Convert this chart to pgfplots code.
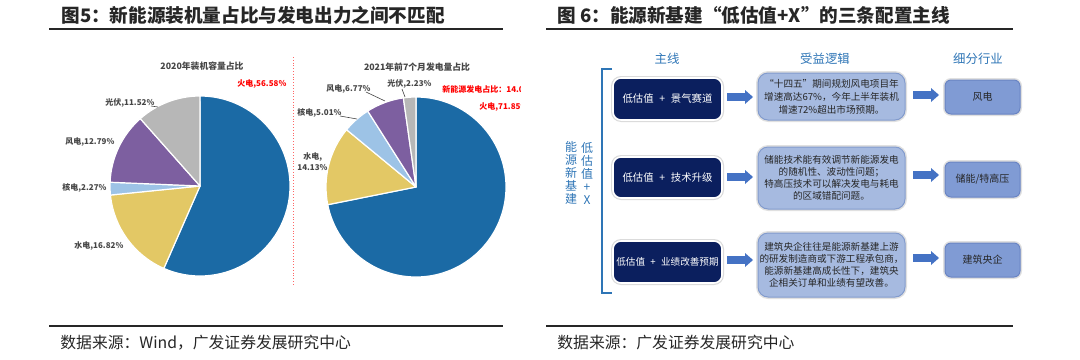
\documentclass[border=0pt]{standalone}
\usepackage{pgfplots}
\pgfplotsset{compat=1.18}
\usepackage{fontspec}
\setmainfont{Noto Sans CJK SC}
\definecolor{cfire}{RGB}{27,106,165}
\definecolor{chydro}{RGB}{227,200,101}
\definecolor{cnuke}{RGB}{157,195,230}
\definecolor{cwind}{RGB}{125,95,160}
\definecolor{cpv}{RGB}{183,183,183}
\definecolor{navy}{RGB}{11,31,94}
\definecolor{midbox}{RGB}{166,186,224}
\definecolor{midedge}{RGB}{130,155,205}
\definecolor{rbox}{RGB}{128,155,212}
\definecolor{redge}{RGB}{105,132,195}
\definecolor{arrowc}{RGB}{68,114,196}
\definecolor{hblue}{RGB}{46,117,182}
\definecolor{titlec}{RGB}{38,38,38}
\definecolor{lblc}{RGB}{70,70,70}
\definecolor{txtc}{RGB}{38,38,38}
\definecolor{redc}{RGB}{255,0,0}
\newcommand{\fs}[1]{\fontsize{#1}{#1}\selectfont}
\newcommand{\pl}{\hspace{0.55em}+\hspace{0.55em}}
\newcommand{\pie}[1]{%
  \pgfplotsextra{%
    \xdef\acc{90}%
    \foreach \v/\c in {#1}{%
      \pgfmathsetmacro\b{\acc-3.6*\v}%
      \fill[\c, draw=white, line width=0.6pt, line join=round] (axis cs:0,0) -- (axis cs:{cos(\acc)},{sin(\acc)}) arc[start angle=\acc, end angle=\b, radius=45pt] -- cycle;
      \xdef\acc{\b}%
    }%
  }%
}
\newcommand{\dbox}[5]{%
  \fill[black!14, rounded corners=5pt] (#1-2,#2-2) rectangle (#3+2,#4+2);
  \fill[navy, draw=white, line width=0.8pt, rounded corners=4pt] (#1,#2) rectangle (#3,#4);
  \node[text=white, font=\fs{5.2}, inner sep=0] at ({(#1+#3)/2},{(#2+#4)/2}) {#5};
}
\newcommand{\mybox}[6]{%
  \fill[black!12, rounded corners=6pt] (#1-2,#2-2) rectangle (#3+2,#4+2);
  \fill[midbox, draw=midedge, line width=0.5pt, rounded corners=5pt] (#1,#2) rectangle (#3,#4);
  \node[text=txtc, font=\fontsize{4.8}{#6}\selectfont, align=center, inner sep=0] at ({(#1+#3)/2},{(#2+#4)/2}) {#5};
}
\newcommand{\rgtbox}[5]{%
  \fill[black!12, rounded corners=4pt] (#1-2,#2-2) rectangle (#3+2,#4+2);
  \fill[rbox, draw=redge, line width=0.5pt, rounded corners=3pt] (#1,#2) rectangle (#3,#4);
  \node[text=txtc, font=\fs{5}, inner sep=0] at ({(#1+#3)/2},{(#2+#4)/2}) {#5};
}
\newcommand{\barrow}[3]{%
  \fill[arrowc] (#1,#3-3.8) -- (#2-8,#3-3.8) -- (#2-8,#3-7) -- (#2,#3) -- (#2-8,#3+7) -- (#2-8,#3+3.8) -- (#1,#3+3.8) -- cycle;
}
\begin{document}
\begin{tikzpicture}[x=0.5pt,y=-0.5pt]
\path[use as bounding box] (0,0) rectangle (1080,359);
% ---------- titles ----------
\node[anchor=west, font=\fs{9.3}\bfseries, text=titlec, inner sep=0] at (61,15) {图5：新能源装机量占比与发电出力之间不匹配};
\draw[line width=1pt, titlec] (49,29) -- (503,29);
\node[anchor=west, font=\fs{9.3}\bfseries, text=titlec, inner sep=0] at (557,15) {图 6：能源新基建“低估值+X”的三条配置主线};
\draw[line width=1pt, titlec] (546,29) -- (1013,29);
% ---------- sources ----------
\draw[line width=1pt, titlec] (49,326) -- (503,326);
\node[anchor=west, font=\fs{7.9}, text=titlec, inner sep=0] at (60,343) {数据来源：Wind，广发证券发展研究中心};
\draw[line width=1pt, titlec] (546,326) -- (1013,326);
\node[anchor=west, font=\fs{7.9}, text=titlec, inner sep=0] at (557,343) {数据来源：广发证券发展研究中心};
% ---------- pies ----------
\coordinate (c1) at (200,186);
\coordinate (c2) at (416,187);
\begin{axis}[at={(c1)}, anchor=center, x=45pt, y=45pt, xmin=-1, xmax=1, ymin=-1, ymax=1, hide axis, clip=false]
\pie{56.58/cfire,16.82/chydro,2.27/cnuke,12.79/cwind,11.52/cpv}
\end{axis}
\begin{axis}[at={(c2)}, anchor=center, x=45pt, y=45pt, xmin=-1, xmax=1, ymin=-1, ymax=1, hide axis, clip=false]
\pie{71.85/cfire,14.13/chydro,5.01/cnuke,6.77/cwind,2.23/cpv}
\end{axis}
% pie 1 labels
\node[font=\fs{4.4}\bfseries, text=lblc, inner sep=0] at (202,66) {2020年装机容量占比};
\node[anchor=west, font=\fs{4.0}\bfseries, text=redc, inner sep=0] at (237,84) {火电,56.58\%};
\node[anchor=west, font=\fs{4.0}\bfseries, text=lblc, inner sep=0] at (105,103) {光伏,11.52\%};
\draw[lblc, line width=0.3pt] (151,106) -- (158,107);
\node[anchor=west, font=\fs{4.0}\bfseries, text=lblc, inner sep=0] at (65,142) {风电,12.79\%};
\node[anchor=west, font=\fs{4.0}\bfseries, text=lblc, inner sep=0] at (62,188) {核电,2.27\%};
\node[anchor=west, font=\fs{4.0}\bfseries, text=lblc, inner sep=0] at (74,246) {水电,16.82\%};
\draw[redc!60, densely dotted, line width=0.4pt] (293,57) -- (293,286);
% pie 2 labels
\node[font=\fs{4.4}\bfseries, text=lblc, inner sep=0] at (417,67) {2021年前7个月发电量占比};
\node[anchor=west, font=\fs{4.0}\bfseries, text=lblc, inner sep=0] at (326,89) {风电,6.77\%};
\draw[lblc, line width=0.3pt] (366,92) -- (385,101);
\node[anchor=west, font=\fs{4.0}\bfseries, text=lblc, inner sep=0] at (387,84) {光伏,2.23\%};
\draw[lblc, line width=0.3pt] (402,89) -- (405,97);
\node[anchor=west, font=\fs{4.0}\bfseries, text=lblc, inner sep=0] at (297,113) {核电,5.01\%};
\draw[lblc, line width=0.3pt] (340,116) -- (357,119);
\node[anchor=west, font=\fs{4.0}\bfseries, text=lblc, inner sep=0] at (303,157) {水电,};
\node[anchor=west, font=\fs{4.0}\bfseries, text=lblc, inner sep=0] at (297,168) {14.13\%};
\begin{scope}
\clip (280,50) rectangle (520,300);
\node[anchor=west, font=\fs{4.0}\bfseries, text=redc, inner sep=0] at (442,89) {新能源发电占比：14.04\%};
\node[anchor=west, font=\fs{4.0}\bfseries, text=redc, inner sep=0] at (479,107) {火电,71.85\%};
\end{scope}
% ---------- flow diagram ----------
\node[text=hblue, font=\fs{6.2}, inner sep=0] at (667,59) {主线};
\node[text=hblue, font=\fs{6.2}, inner sep=0] at (825,59) {受益逻辑};
\node[text=hblue, font=\fs{6.2}, inner sep=0] at (978,59) {细分行业};
\draw[hblue, line width=0.8pt] (612,69) -- (602,69) -- (602,293) -- (612,293);
\node[text=hblue, font=\fontsize{6}{6.5}\selectfont, align=center, inner sep=0] at (571,173) {能\\源\\新\\基\\建};
\node[text=hblue, font=\fontsize{6}{6.5}\selectfont, align=center, inner sep=0] at (587,173) {低\\估\\值\\+\\X};
\dbox{613}{78}{722}{120}{低估值\pl 景气赛道}
\dbox{613}{157}{722}{198}{低估值\pl 技术升级}
\dbox{613}{241}{722}{283}{\fs{4.8}低估值\pl 业绩改善预期}
\barrow{727}{753}{97}
\barrow{727}{753}{177}
\barrow{727}{753}{260}
\mybox{758}{73}{905}{120}{“十四五”期间规划风电项目年\\增速高达67\%，今年上半年装机\\增速72\%超出市场预期。}{6.5}
\mybox{758}{147}{905}{209}{储能技术能有效调节新能源发电\\的随机性、波动性问题；\\特高压技术可以解决发电与耗电\\的区域错配问题。}{5.9}
\mybox{758}{233}{905}{297}{建筑央企往往是能源新基建上游\\的研发制造商或下游工程承包商，\\能源新基建高成长性下，建筑央\\企相关订单和业绩有望改善。}{6}
\barrow{913}{939}{95}
\barrow{913}{939}{175}
\barrow{913}{939}{258}
\rgtbox{945}{80}{1020}{114}{风电}
\rgtbox{945}{162}{1020}{197}{储能/特高压}
\rgtbox{945}{243}{1020}{277}{建筑央企}
\end{tikzpicture}
\end{document}
